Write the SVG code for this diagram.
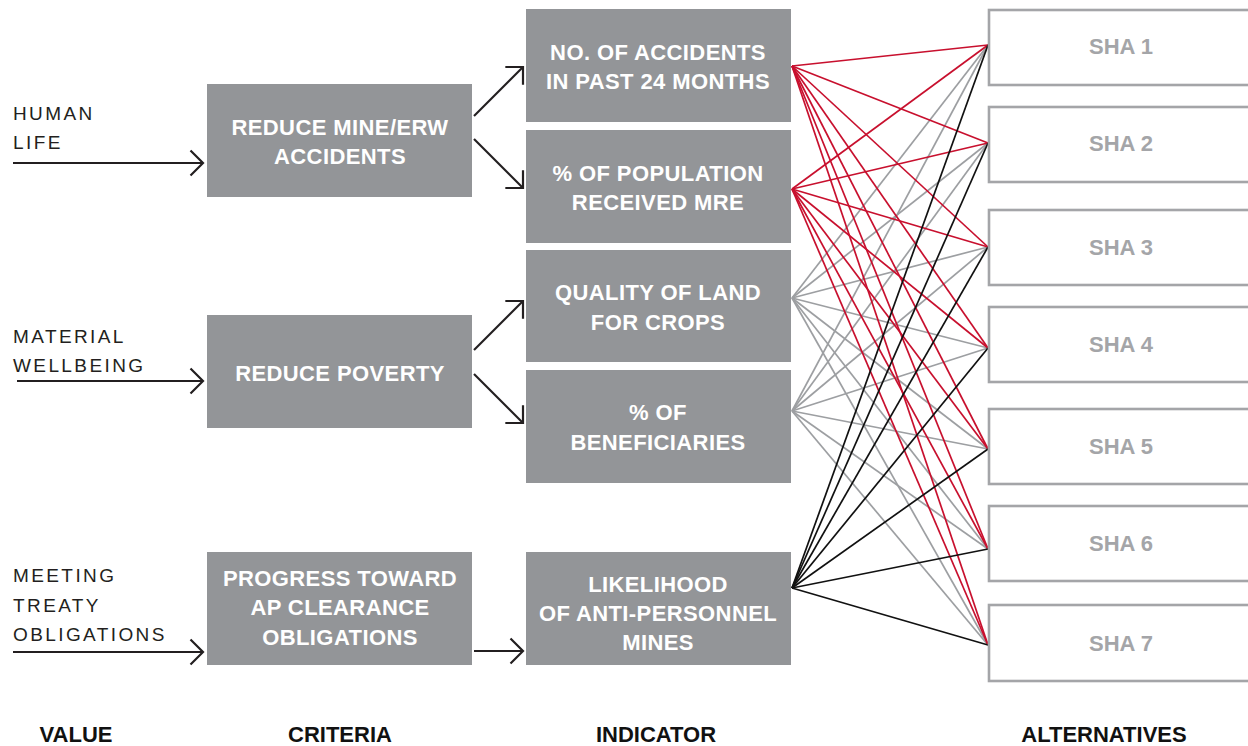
<svg xmlns="http://www.w3.org/2000/svg" width="1248" height="746" viewBox="0 0 1248 746">
  <style>
    .box { fill: #939598; }
    .alt { fill: #ffffff; stroke: #a4a5a8; stroke-width: 2.6; }
    .boxtxt { font-family: "Liberation Sans", Arial, sans-serif; font-weight: bold; font-size: 22px; fill: #ffffff; text-anchor: middle; letter-spacing: 0.4px; }
    .alttxt { font-family: "Liberation Sans", Arial, sans-serif; font-weight: bold; font-size: 22px; fill: #a4a5a8; text-anchor: middle; }
    .value { font-family: "Liberation Sans", Arial, sans-serif; font-size: 19px; fill: #231f20; letter-spacing: 2.4px; }
    .head { font-family: "Liberation Sans", Arial, sans-serif; font-weight: bold; font-size: 22px; fill: #111111; text-anchor: middle; }
    .arrow { stroke: #231f20; stroke-width: 2.2; fill: none; marker-end: url(#chev); }
    .red line { stroke: #c8102e; stroke-width: 1.7; }
    .grey line { stroke: #9d9fa2; stroke-width: 1.7; }
    .black line { stroke: #111111; stroke-width: 1.7; }
  </style>
  <defs>
    <marker id="chev" viewBox="0 0 16 28" refX="14" refY="14" markerWidth="16" markerHeight="28" markerUnits="userSpaceOnUse" orient="auto">
      <path d="M1.5,1.5 L14,14 L1.5,26.5" fill="none" stroke="#231f20" stroke-width="2.2"/>
    </marker>
  </defs>

  <rect width="1248" height="746" fill="#ffffff"/>

  <!-- connectors: indicators to alternatives -->
  <g id="connectors">
    <g class="grey">
      <line x1="792" y1="298" x2="988" y2="45"/>
      <line x1="792" y1="298" x2="988" y2="143"/>
      <line x1="792" y1="298" x2="988" y2="247"/>
      <line x1="792" y1="298" x2="988" y2="348"/>
      <line x1="792" y1="298" x2="988" y2="449"/>
      <line x1="792" y1="298" x2="988" y2="549"/>
      <line x1="792" y1="298" x2="988" y2="645"/>
      <line x1="792" y1="411" x2="988" y2="45"/>
      <line x1="792" y1="411" x2="988" y2="143"/>
      <line x1="792" y1="411" x2="988" y2="247"/>
      <line x1="792" y1="411" x2="988" y2="348"/>
      <line x1="792" y1="411" x2="988" y2="449"/>
      <line x1="792" y1="411" x2="988" y2="549"/>
      <line x1="792" y1="411" x2="988" y2="645"/>
    </g>
    <g class="red">
      <line x1="792" y1="66" x2="988" y2="45"/>
      <line x1="792" y1="66" x2="988" y2="143"/>
      <line x1="792" y1="66" x2="988" y2="247"/>
      <line x1="792" y1="66" x2="988" y2="348"/>
      <line x1="792" y1="66" x2="988" y2="449"/>
      <line x1="792" y1="66" x2="988" y2="549"/>
      <line x1="792" y1="66" x2="988" y2="645"/>
      <line x1="792" y1="189" x2="988" y2="45"/>
      <line x1="792" y1="189" x2="988" y2="143"/>
      <line x1="792" y1="189" x2="988" y2="247"/>
      <line x1="792" y1="189" x2="988" y2="348"/>
      <line x1="792" y1="189" x2="988" y2="449"/>
      <line x1="792" y1="189" x2="988" y2="549"/>
      <line x1="792" y1="189" x2="988" y2="645"/>
    </g>
    <g class="black">
      <line x1="792" y1="588" x2="988" y2="45"/>
      <line x1="792" y1="588" x2="988" y2="143"/>
      <line x1="792" y1="588" x2="988" y2="247"/>
      <line x1="792" y1="588" x2="988" y2="348"/>
      <line x1="792" y1="588" x2="988" y2="449"/>
      <line x1="792" y1="588" x2="988" y2="549"/>
      <line x1="792" y1="588" x2="988" y2="645"/>
    </g>
    <!-- value and criteria arrows -->
    <line class="arrow" x1="13" y1="163" x2="203" y2="163"/>
    <line class="arrow" x1="17" y1="381" x2="203" y2="381"/>
    <line class="arrow" x1="13" y1="652" x2="203" y2="652"/>
    <line class="arrow" x1="474" y1="116" x2="523" y2="67"/>
    <line class="arrow" x1="474" y1="139" x2="523" y2="188"/>
    <line class="arrow" x1="474" y1="350" x2="523" y2="301"/>
    <line class="arrow" x1="474" y1="374" x2="523" y2="423"/>
    <line class="arrow" x1="474" y1="651" x2="523" y2="651"/>
  </g>

  <!-- values -->
  <g id="value-human-life">
    <text class="value" x="13" y="120">HUMAN</text>
    <text class="value" x="13" y="149">LIFE</text>
  </g>
  <g id="value-material-wellbeing">
    <text class="value" x="13" y="343">MATERIAL</text>
    <text class="value" x="13" y="372">WELLBEING</text>
  </g>
  <g id="value-treaty">
    <text class="value" x="13" y="582">MEETING</text>
    <text class="value" x="13" y="612">TREATY</text>
    <text class="value" x="13" y="641">OBLIGATIONS</text>
  </g>

  <!-- criteria -->
  <g id="crit-accidents">
    <rect class="box" x="207" y="84" width="265" height="113"/>
    <text class="boxtxt" x="340" y="135">REDUCE MINE/ERW</text>
    <text class="boxtxt" x="340" y="164">ACCIDENTS</text>
  </g>
  <g id="crit-poverty">
    <rect class="box" x="207" y="315" width="265" height="113"/>
    <text class="boxtxt" x="340" y="381">REDUCE POVERTY</text>
  </g>
  <g id="crit-clearance">
    <rect class="box" x="207" y="552" width="265" height="113"/>
    <text class="boxtxt" x="340" y="586">PROGRESS TOWARD</text>
    <text class="boxtxt" x="340" y="615">AP CLEARANCE</text>
    <text class="boxtxt" x="340" y="645">OBLIGATIONS</text>
  </g>

  <!-- indicators -->
  <g id="ind-accidents">
    <rect class="box" x="526" y="9" width="265" height="113"/>
    <text class="boxtxt" x="658" y="60">NO. OF ACCIDENTS</text>
    <text class="boxtxt" x="658" y="89">IN PAST 24 MONTHS</text>
  </g>
  <g id="ind-mre">
    <rect class="box" x="526" y="130" width="265" height="113"/>
    <text class="boxtxt" x="658" y="181">% OF POPULATION</text>
    <text class="boxtxt" x="658" y="210">RECEIVED MRE</text>
  </g>
  <g id="ind-land">
    <rect class="box" x="526" y="250" width="265" height="112"/>
    <text class="boxtxt" x="658" y="300">QUALITY OF LAND</text>
    <text class="boxtxt" x="658" y="330">FOR CROPS</text>
  </g>
  <g id="ind-beneficiaries">
    <rect class="box" x="526" y="370" width="265" height="113"/>
    <text class="boxtxt" x="658" y="420">% OF</text>
    <text class="boxtxt" x="658" y="450">BENEFICIARIES</text>
  </g>
  <g id="ind-likelihood">
    <rect class="box" x="526" y="552" width="265" height="113"/>
    <text class="boxtxt" x="658" y="592">LIKELIHOOD</text>
    <text class="boxtxt" x="658" y="621">OF ANTI-PERSONNEL</text>
    <text class="boxtxt" x="658" y="650">MINES</text>
  </g>

  <!-- alternatives -->
  <g id="sha1"><rect class="alt" x="989" y="10" width="275" height="75"/><text class="alttxt" x="1121" y="54">SHA 1</text></g>
  <g id="sha2"><rect class="alt" x="989" y="107" width="275" height="75"/><text class="alttxt" x="1121" y="151">SHA 2</text></g>
  <g id="sha3"><rect class="alt" x="989" y="210" width="275" height="75"/><text class="alttxt" x="1121" y="255">SHA 3</text></g>
  <g id="sha4"><rect class="alt" x="989" y="307" width="275" height="75"/><text class="alttxt" x="1121" y="352">SHA 4</text></g>
  <g id="sha5"><rect class="alt" x="989" y="409" width="275" height="75"/><text class="alttxt" x="1121" y="454">SHA 5</text></g>
  <g id="sha6"><rect class="alt" x="989" y="506" width="275" height="75"/><text class="alttxt" x="1121" y="551">SHA 6</text></g>
  <g id="sha7"><rect class="alt" x="989" y="605" width="275" height="76"/><text class="alttxt" x="1121" y="651">SHA 7</text></g>

  <!-- column headings -->
  <g id="headings">
    <text class="head" x="76" y="742">VALUE</text>
    <text class="head" x="340" y="742">CRITERIA</text>
    <text class="head" x="656" y="742">INDICATOR</text>
    <text class="head" x="1104" y="742">ALTERNATIVES</text>
  </g>
</svg>
